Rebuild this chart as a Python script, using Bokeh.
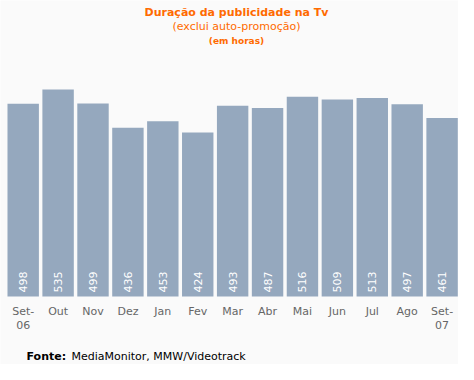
import math
from bokeh.plotting import figure
from bokeh.models import Range1d, Label, ColumnDataSource
from bokeh.core.properties import value
from bokeh.embed import file_html
from bokeh.resources import INLINE

months = ["Set-\n06", "Out", "Nov", "Dez", "Jan", "Fev", "Mar", "Abr", "Mai", "Jun", "Jul", "Ago", "Set-\n07"]
hours = [498, 535, 499, 436, 453, 424, 493, 487, 516, 509, 513, 497, 461]
title_text = "Duração da publicidade na Tv"
subtitle_text = "(exclui auto-promoção)"
unit_text = "(em horas)"
source_bold = "Fonte:"
source_text = "MediaMonitor, MMW/Videotrack"

BG = "#fafafa"
BAR = "#95a8be"
ORANGE = "#ff6a00"
FONT = "DejaVu Sans"

W, H = 458, 364
BASE = 296          # canvas y of bar baseline
PX_PER_UNIT = 0.387
idx = list(range(len(months)))
src = ColumnDataSource(dict(x=idx, top=hours, lab=[str(v) for v in hours], mon=months))

p = figure(width=W, height=H, output_backend="svg", toolbar_location=None,
           x_range=Range1d(-0.65, len(months) - 0.53),
           y_range=Range1d(-(H - BASE) / PX_PER_UNIT, BASE / PX_PER_UNIT),
           min_border=0, background_fill_color=BG, border_fill_color=BG,
           outline_line_color=None)
p.axis.visible = False
p.grid.visible = False

p.vbar(x="x", top="top", bottom=0, width=0.9, source=src, fill_color=BAR, line_color=None)
p.text(x="x", y=0, text="lab", source=src, angle=math.pi / 2, text_align="left",
       text_baseline="middle", y_offset=-4, text_color="white",
       text_font=value(FONT), text_font_size="11px")
p.text(x="x", y=0, text="mon", source=src, text_align="center", text_baseline="top",
       y_offset=8, text_color="#666666", text_font=value(FONT), text_font_size="11px",
       text_line_height=1.15)

for txt, yc, size, style in [(title_text, 12, "11px", "bold"),
                              (subtitle_text, 26, "11px", "normal"),
                              (unit_text, 40, "9px", "bold")]:
    p.add_layout(Label(x=236, y=H - yc, x_units="screen", y_units="screen", text=txt,
                       text_align="center", text_baseline="middle", text_color=ORANGE,
                       text_font=FONT, text_font_size=size, text_font_style=style))

p.add_layout(Label(x=26, y=H - 356, x_units="screen", y_units="screen", text=source_bold,
                   text_align="left", text_baseline="middle", text_color="black",
                   text_font=FONT, text_font_size="11px", text_font_style="bold"))
p.add_layout(Label(x=71, y=H - 356, x_units="screen", y_units="screen", text=source_text,
                   text_align="left", text_baseline="middle", text_color="black",
                   text_font=FONT, text_font_size="11px"))

open("out.html", "w").write(file_html(p, INLINE))
